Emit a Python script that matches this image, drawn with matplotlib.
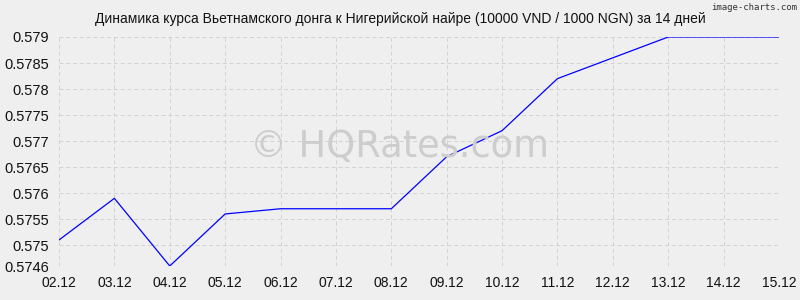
import matplotlib
matplotlib.use('Agg')
import matplotlib.pyplot as plt

plt.rcParams['font.family'] = ['Liberation Sans', 'DejaVu Sans']

# данные
dates = ['02.12', '03.12', '04.12', '05.12', '06.12', '07.12', '08.12',
         '09.12', '10.12', '11.12', '12.12', '13.12', '14.12', '15.12']
rates = [0.5751, 0.5759, 0.5746, 0.5756, 0.5757, 0.5757, 0.5757,
         0.5767, 0.5772, 0.5782, 0.5786, 0.5790, 0.5790, 0.5790]
yticks = [0.5746, 0.575, 0.5755, 0.576, 0.5765, 0.577, 0.5775, 0.578, 0.5785, 0.579]
ytick_labels = ['0.5746', '0.575', '0.5755', '0.576', '0.5765', '0.577',
                '0.5775', '0.578', '0.5785', '0.579']

bg = '#efefef'
fig = plt.figure(figsize=(8, 3), dpi=100, facecolor=bg)
ax = fig.add_axes([59/800, 1 - 266/300, 720/800, 229/300], facecolor=bg)

x = list(range(len(dates)))
ax.plot(x, rates, color='#0000ff', linewidth=0.9, zorder=3)

ax.set_xlim(0, len(dates) - 1)
ax.set_ylim(0.5746, 0.579)
ax.set_xticks(x)
ax.set_xticklabels(dates)
ax.set_yticks(yticks)
ax.set_yticklabels(ytick_labels)
ax.tick_params(axis='x', length=0, labelsize=10, colors='#111111', pad=7)
ax.tick_params(axis='y', length=0, labelsize=10.5, colors='#111111', pad=7)

for s in ax.spines.values():
    s.set_visible(False)
ax.grid(True, color='#d2d2d2', linestyle=(0, (4, 3)), linewidth=0.7, zorder=0)
ax.set_axisbelow(True)

# заголовок по центру всей картинки
fig.text(0.5, 1 - 23/300, 'Динамика курса Вьетнамского донга к Нигерийской найре (10000 VND / 1000 NGN) за 14 дней',
         ha='center', va='baseline', fontsize=10, color='#111111')

fig.text(0.5, 0.51, '© HQRates.com', ha='center', va='center',
         fontsize=26.5, color='#cdcdcd', zorder=1, family=['DejaVu Sans'])
fig.text(0.996, 0.99, 'image-charts.com', ha='right', va='top',
         fontsize=6.5, color='#333333', family=['DejaVu Sans Mono', 'DejaVu Sans'])

fig.savefig('out.png', dpi=100, facecolor=bg)
